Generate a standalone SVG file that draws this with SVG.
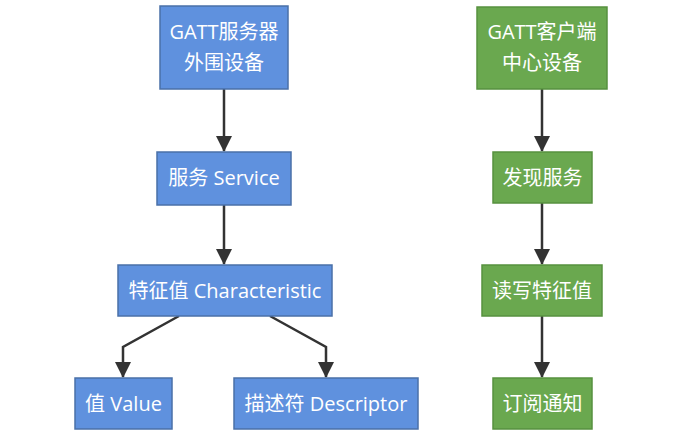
<svg xmlns="http://www.w3.org/2000/svg" width="692" height="446" viewBox="0 0 692 446">
<defs>
<style>
.blue{fill:#5f91de;stroke:#4a70a8;stroke-width:1.5}
.green{fill:#6aa84f;stroke:#57913f;stroke-width:1.5}
.t{font-family:"Open Sans","Noto Sans CJK SC",sans-serif;font-size:20px;fill:#ffffff;text-anchor:middle}
.e{fill:none;stroke:#333333;stroke-width:2.5}
</style>
<marker id="ah" markerUnits="userSpaceOnUse" markerWidth="16" markerHeight="16" viewBox="0 0 16 16" refX="15" refY="8" orient="auto">
<path d="M0,0 L16,8 L0,16 Z" fill="#333333"/>
</marker>
</defs>
<rect width="692" height="446" fill="#ffffff"/>
<g id="connectors">
<path class="e" d="M224,89 V151" marker-end="url(#ah)"/>
<path class="e" d="M224,205 V264" marker-end="url(#ah)"/>
<path class="e" d="M179,316 L123,347 V377" marker-end="url(#ah)"/>
<path class="e" d="M270,316 L326,347 V377" marker-end="url(#ah)"/>
<path class="e" d="M542,89 V151" marker-end="url(#ah)"/>
<path class="e" d="M542,203 V264" marker-end="url(#ah)"/>
<path class="e" d="M542,316 V377" marker-end="url(#ah)"/>
</g>
<g id="server">
<rect class="blue" x="160" y="6" width="128" height="83"/>
<text class="t" x="224" y="39">GATT服务器</text>
<text class="t" x="224" y="70">外围设备</text>
</g>
<g id="service">
<rect class="blue" x="157" y="152" width="134" height="53"/>
<text class="t" x="224" y="185">服务 Service</text>
</g>
<g id="characteristic">
<rect class="blue" x="118" y="265" width="214" height="51"/>
<text class="t" x="225" y="298">特征值 Characteristic</text>
</g>
<g id="value">
<rect class="blue" x="75" y="378" width="97" height="51"/>
<text class="t" x="123.5" y="411">值 Value</text>
</g>
<g id="descriptor">
<rect class="blue" x="234" y="378" width="184" height="51"/>
<text class="t" x="326" y="411">描述符 Descriptor</text>
</g>
<g id="client">
<rect class="green" x="477" y="7" width="130" height="82"/>
<text class="t" x="542" y="39">GATT客户端</text>
<text class="t" x="542" y="70">中心设备</text>
</g>
<g id="discover">
<rect class="green" x="493" y="152" width="99" height="51"/>
<text class="t" x="542.5" y="185">发现服务</text>
</g>
<g id="readwrite">
<rect class="green" x="482" y="265" width="120" height="51"/>
<text class="t" x="542" y="298">读写特征值</text>
</g>
<g id="subscribe">
<rect class="green" x="493" y="378" width="99" height="51"/>
<text class="t" x="542.5" y="411">订阅通知</text>
</g>
</svg>
